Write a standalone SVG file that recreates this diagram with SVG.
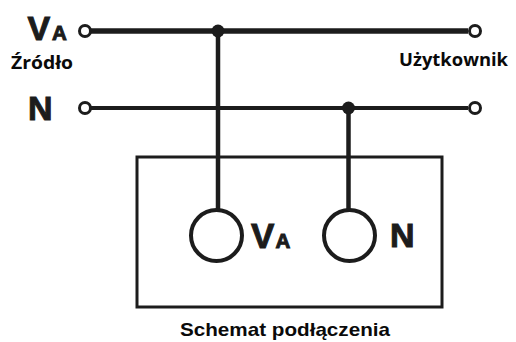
<svg xmlns="http://www.w3.org/2000/svg" width="516" height="342" viewBox="0 0 516 342">
<style>
.w{fill:none;stroke:#1c1c1c;stroke-linecap:butt}
.t{fill:#fff;stroke:#1c1c1c;stroke-width:3}
.d{fill:#1c1c1c}
.b{font-family:"Liberation Sans",Arial,sans-serif;font-weight:bold;fill:#1c1c1c;stroke:#1c1c1c;stroke-width:1}
.l{font-family:"Open Sans","Liberation Sans",Arial,sans-serif;font-weight:bold;fill:#0a0a0a;font-size:17px}
.s{font-family:"Liberation Sans",Arial,sans-serif;font-weight:bold;fill:#0a0a0a;font-size:18.500px}
</style>
<rect width="516" height="342" fill="#fff"/>
<g id="connectors">
<path class="w" stroke-width="5.500" d="M90 31H468"/>
<path class="w" stroke-width="4" d="M90 108H468"/>
<path class="w" stroke-width="4.500" d="M218 31V209"/>
<path class="w" stroke-width="4.500" d="M348.500 108V209"/>
<circle class="d" cx="218" cy="31" r="6.500"/>
<circle class="d" cx="348.500" cy="108" r="6.500"/>
</g>
<g id="terminal-va-source"><circle class="t" cx="85" cy="31" r="5.500"/><text class="b" x="27.500" y="39.500" font-size="34">V</text><text class="b" x="52" y="40" font-size="20.500">A</text></g>
<g id="terminal-n-source"><circle class="t" cx="85" cy="108" r="5.500"/><text class="b" x="28" y="119.500" font-size="34">N</text></g>
<g id="terminal-va-user"><circle class="t" cx="475" cy="31" r="5.500"/></g>
<g id="terminal-n-user"><circle class="t" cx="475" cy="108" r="5.500"/></g>
<g id="label-source"><text class="l" x="11" y="69" textLength="62" lengthAdjust="spacingAndGlyphs">Źródło</text></g>
<g id="label-user"><text class="l" x="399" y="66" textLength="109" lengthAdjust="spacingAndGlyphs">Użytkownik</text></g>
<g id="device">
<rect x="137" y="157" width="305" height="150" fill="none" stroke="#1c1c1c" stroke-width="3"/>
<circle cx="216.500" cy="235.500" r="25.500" fill="#fff" stroke="#1c1c1c" stroke-width="4"/>
<circle cx="349.500" cy="235.500" r="25.500" fill="#fff" stroke="#1c1c1c" stroke-width="4"/>
<text class="b" x="251" y="247.500" font-size="35">V</text><text class="b" x="275.500" y="247.500" font-size="20.500">A</text>
<text class="b" x="390" y="246.500" font-size="34">N</text>
</g>
<g id="label-device"><text class="s" x="180" y="336" textLength="210" lengthAdjust="spacingAndGlyphs">Schemat podłączenia</text></g>
</svg>
